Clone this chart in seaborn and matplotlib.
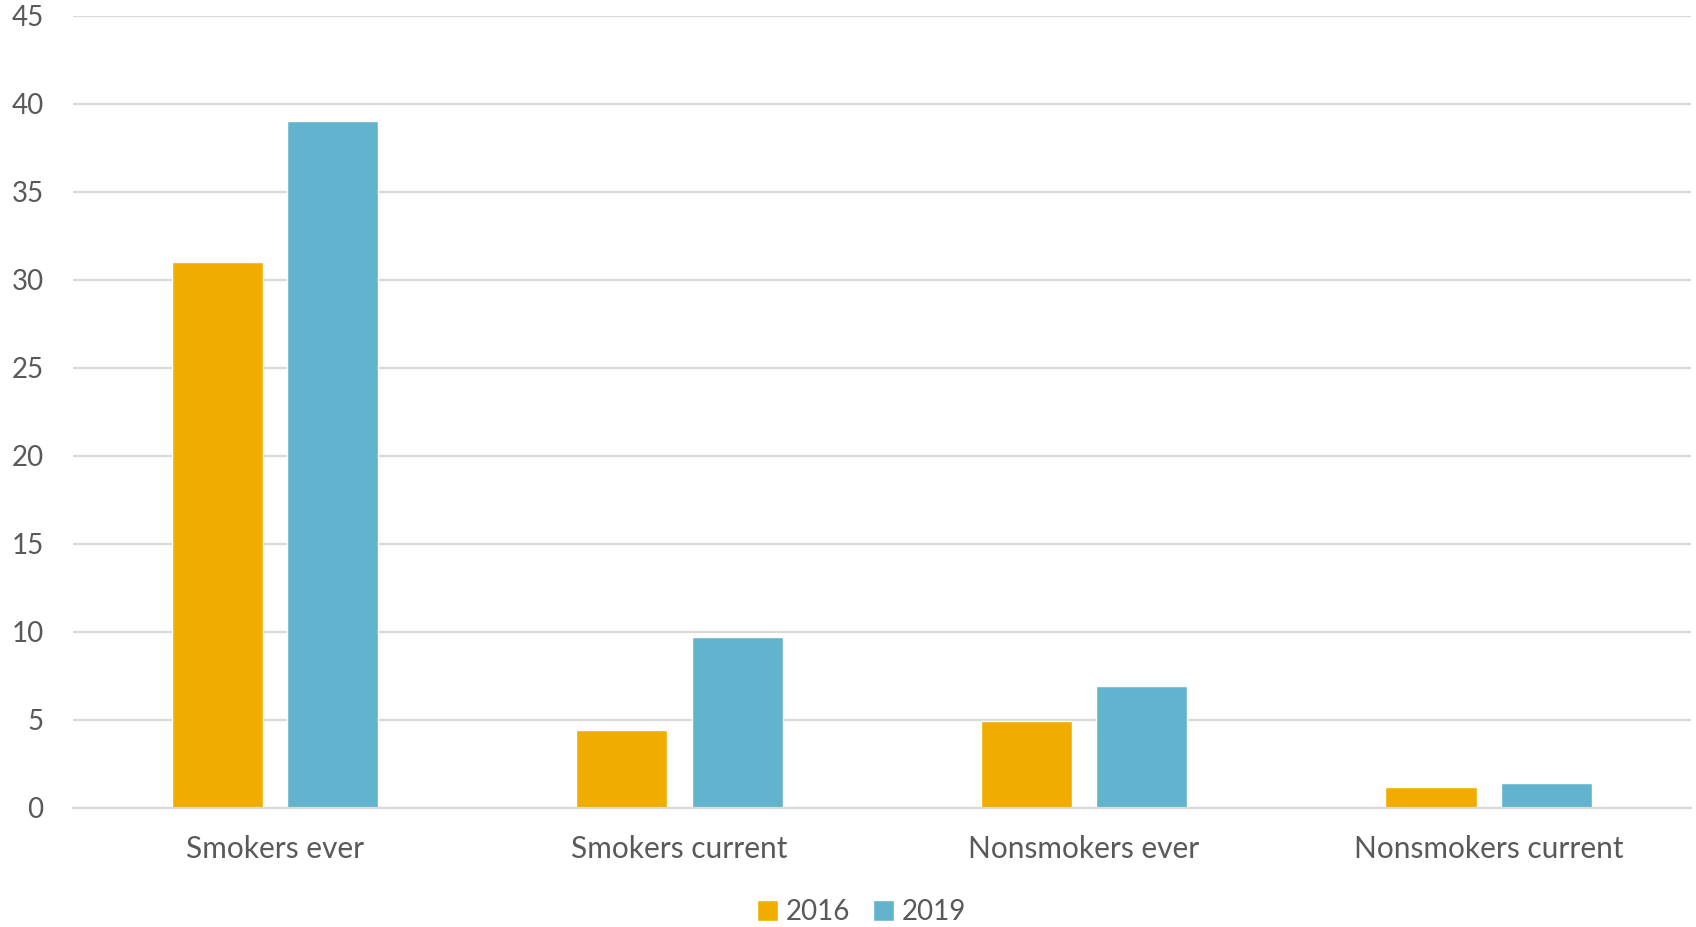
import matplotlib
matplotlib.use("Agg")
import matplotlib.pyplot as plt
import seaborn as sns
import pandas as pd

categories = ["Smokers ever", "Smokers current", "Nonsmokers ever", "Nonsmokers current"]
years = ["2016", "2019"]
values_2016 = [31.0, 4.4, 4.9, 1.2]
values_2019 = [39.0, 9.7, 6.9, 1.4]
yticks = [0, 5, 10, 15, 20, 25, 30, 35, 40, 45]

df = pd.DataFrame({
    "category": categories * 2,
    "year": [years[0]] * 4 + [years[1]] * 4,
    "value": values_2016 + values_2019,
})

sns.set_theme(style="white")
plt.rcParams["font.family"] = ["Lato", "DejaVu Sans"]
text_color = "#595959"
palette = {"2016": "#F0AD00", "2019": "#62B3CD"}

fig = plt.figure(figsize=(16.96, 9.27), dpi=100)
ax = fig.add_axes([0.0429, 0.1287, 0.9541, 0.8543])

sns.barplot(data=df, x="category", y="value", hue="year", order=categories,
            hue_order=years, palette=palette, width=0.57, gap=0.21,
            saturation=1, ax=ax, legend=True)

ax.set_ylim(0, 45)
ax.set_xlim(-0.5, 3.5)
ax.set_yticks(yticks)
ax.set_yticklabels([str(t) for t in yticks])
ax.yaxis.grid(True, color="#D9D9D9", linewidth=1.6)
ax.set_axisbelow(True)
for s in ["top", "right", "left"]:
    ax.spines[s].set_visible(False)
ax.spines["bottom"].set_color("#D9D9D9")
ax.spines["bottom"].set_linewidth(1.6)
ax.set_xlabel("")
ax.set_ylabel("")
ax.tick_params(axis="y", length=0, pad=21, labelsize=20, labelcolor=text_color)
ax.tick_params(axis="x", length=0, pad=20, labelsize=21.5, labelcolor=text_color)

handles, labels = ax.get_legend_handles_labels()
ax.legend_.remove()
fig.legend(handles, labels, loc="center", bbox_to_anchor=(0.508, 0.016), ncol=2,
           frameon=False, fontsize=20, labelcolor=text_color,
           handlelength=0.75, handleheight=0.75, handletextpad=0.3, columnspacing=0.8)

fig.savefig("out.png", dpi=100)
